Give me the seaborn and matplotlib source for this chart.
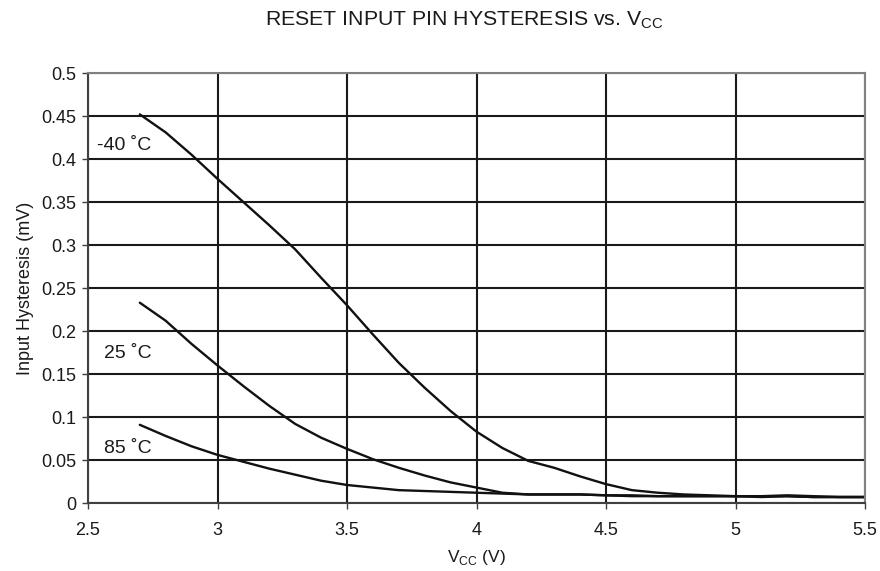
import matplotlib
matplotlib.use("Agg")
import matplotlib.pyplot as plt
import pandas as pd
import seaborn as sns

# supply voltage (V)
vcc = [2.7, 2.8, 2.9, 3.0, 3.1, 3.2, 3.3, 3.4, 3.5, 3.6, 3.7, 3.8, 3.9, 4.0, 4.1,
       4.2, 4.3, 4.4, 4.5, 4.6, 4.7, 4.8, 4.9, 5.0, 5.1, 5.2, 5.3, 5.4, 5.5]
# hysteresis (mV) per temperature
hyst_m40 = [0.452, 0.431, 0.405, 0.377, 0.350, 0.323, 0.295, 0.262, 0.230, 0.196,
            0.163, 0.134, 0.107, 0.083, 0.064, 0.049, 0.041, 0.031, 0.022, 0.015,
            0.012, 0.010, 0.009, 0.008, 0.008, 0.008, 0.007, 0.007, 0.007]
hyst_25 = [0.233, 0.212, 0.185, 0.160, 0.136, 0.113, 0.092, 0.076, 0.063, 0.051,
           0.041, 0.032, 0.024, 0.018, 0.012, 0.010, 0.010, 0.010, 0.009, 0.008,
           0.008, 0.008, 0.008, 0.008, 0.007, 0.008, 0.007, 0.007, 0.007]
hyst_85 = [0.091, 0.078, 0.066, 0.056, 0.048, 0.040, 0.033, 0.026, 0.021, 0.018,
           0.015, 0.014, 0.013, 0.012, 0.011, 0.010, 0.010, 0.010, 0.009, 0.009,
           0.008, 0.008, 0.008, 0.008, 0.008, 0.009, 0.008, 0.007, 0.007]
temps = ["-40 ˚C", "25 ˚C", "85 ˚C"]
label_pos = [(2.535, 0.416), (2.56, 0.174), (2.56, 0.063)]

rows = []
for t, ys in zip(temps, [hyst_m40, hyst_25, hyst_85]):
    for x, y in zip(vcc, ys):
        rows.append((t, x, y))
df = pd.DataFrame(rows, columns=["temp", "vcc", "hyst"])

sns.set_style("white")
plt.rcParams['font.family'] = ['Liberation Sans', 'DejaVu Sans']

fig = plt.figure(figsize=(8.8, 5.71), dpi=100)
ax = fig.add_axes([0.1, 0.119, 0.883, 0.753])

sns.lineplot(data=df, x="vcc", y="hyst", units="temp", estimator=None,
             color="#111111", linewidth=1.7, ax=ax, legend=False)

for t, (lx, ly) in zip(temps, label_pos):
    ax.text(lx, ly, t, fontsize=14, color="#1a1a1a", va="center", ha="left")

ax.set_xlim(2.5, 5.5)
ax.set_ylim(0, 0.5)
ax.set_xticks([2.5, 3, 3.5, 4, 4.5, 5, 5.5])
ax.set_xticklabels(["2.5", "3", "3.5", "4", "4.5", "5", "5.5"])
ax.set_yticks([0, 0.05, 0.1, 0.15, 0.2, 0.25, 0.3, 0.35, 0.4, 0.45, 0.5])
ax.set_yticklabels(["0", "0.05", "0.1", "0.15", "0.2", "0.25", "0.3", "0.35",
                    "0.4", "0.45", "0.5"])
ax.grid(True, color="#1a1a1a", linewidth=1.5)
ax.set_axisbelow(True)
ax.tick_params(axis="both", direction="out", length=4.3, width=1, color="#404040",
               labelsize=13, labelcolor="#1a1a1a", bottom=True, left=True)
ax.tick_params(axis="x", pad=9)
ax.tick_params(axis="y", pad=4)
for side in ["top", "right", "left", "bottom"]:
    ax.spines[side].set_visible(True)
    ax.spines[side].set_color("#808080")
    ax.spines[side].set_linewidth(1.5)
ax.spines["left"].set_color("#404040")
ax.spines["bottom"].set_color("#404040")

ax.set_xlabel("V$_{\\mathregular{CC}}$ (V)", fontsize=12.5, color="#1a1a1a", labelpad=7)
ax.set_ylabel("Input Hysteresis (mV)", fontsize=13, color="#1a1a1a", labelpad=5)
fig.text(0.528, 0.965, "RESET INPUT PIN HYSTERESIS vs. V$_{\\mathregular{CC}}$",
         ha="center", va="center", fontsize=15.3, color="#1a1a1a")

fig.savefig("out.png", dpi=100)
